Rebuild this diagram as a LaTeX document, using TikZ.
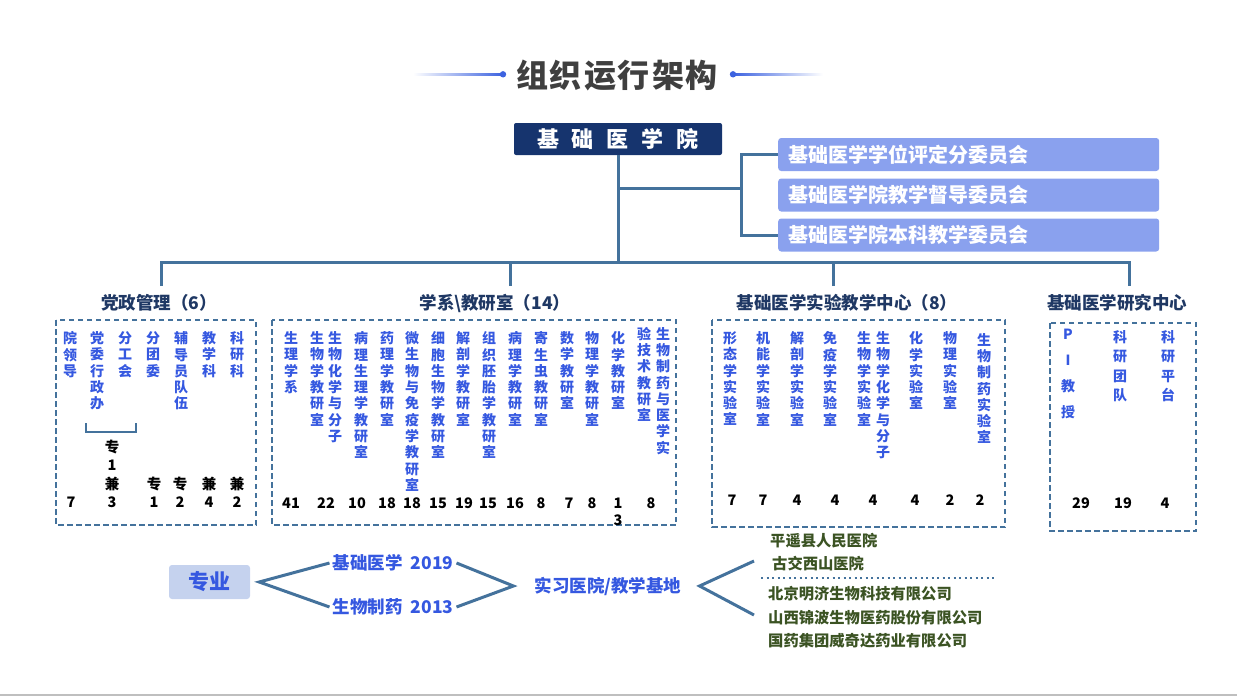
\documentclass[tikz,border=0pt]{standalone}
\usepackage{fontspec}
\setmainfont{Noto Sans CJK SC}
\definecolor{lineBlue}{HTML}{44729C}
\definecolor{navyBox}{HTML}{16346E}
\definecolor{comFill}{HTML}{8AA1EE}
\definecolor{colBlue}{HTML}{3558E0}
\definecolor{hdrNavy}{HTML}{1F3864}
\definecolor{titleGray}{HTML}{3F3F3F}
\definecolor{titleBlue}{HTML}{3D63E0}
\definecolor{majFill}{HTML}{C5D2EE}
\definecolor{baseGreen}{HTML}{3B5323}
% vertical stack of characters, one per line
\makeatletter
\newcommand\vtxt[2][16.3pt]{\vbox{\baselineskip=#1\lineskiplimit=-\maxdimen\@tfor\vch:=#2\do{\hbox to 1.1em{\hss\vch\hss}}}}
\makeatother
\begin{document}
\begin{tikzpicture}[x=1pt,y=-1pt]
            \useasboundingbox (0,0) rectangle (1237,696);
            \tikzstyle{every node}=[font=\bfseries, inner sep=0pt]
            \tikzstyle{conn}=[draw=lineBlue, line width=3pt]
            \tikzstyle{grp}=[draw=lineBlue, line width=2.2pt, dash pattern=on 5.5pt off 3.5pt]
            \tikzstyle{colT}=[anchor=north, text=colBlue, font=\bfseries\fontsize{14}{16}\selectfont]
            \tikzstyle{num}=[anchor=base, font=\bfseries\fontsize{14.5}{18}\selectfont]
            \tikzstyle{hdr}=[text=hdrNavy, font=\bfseries\fontsize{17.5}{20}\selectfont]
            \tikzstyle{combox}=[anchor=west, fill=comFill, rounded corners=3pt, text=white, minimum height=33pt, text width=361pt, inner xsep=10pt, align=left, font=\bfseries\fontsize{20}{22}\selectfont]
            \tikzstyle{major}=[text=colBlue, font=\bfseries\fontsize{17.5}{20}\selectfont, inner sep=3pt]
            \tikzstyle{site}=[anchor=west, text=baseGreen, font=\bfseries\fontsize{15.3}{17}\selectfont]
            % title
            \node [text=titleGray, font=\bfseries\fontsize{32}{34}\selectfont] (title) at (617,75) {组\hspace{2pt}织\hspace{2pt}运\hspace{2pt}行\hspace{2pt}架\hspace{2pt}构};
            \shade [left color=white, right color=titleBlue] (413,73) rectangle (503,75.5);
            \shade [left color=titleBlue, right color=white] (733,73) rectangle (823,75.5);
            \fill [titleBlue] (503,74.3) circle (3.2);
            \fill [titleBlue] (733,74.3) circle (3.2);
            % school and committees
            \node [fill=navyBox, rounded corners=2pt, minimum width=208pt, minimum height=32pt, text=white, font=\bfseries\fontsize{22}{24}\selectfont] (school) at (618,139) {基\hspace{13pt}础\hspace{13pt}医\hspace{13pt}学\hspace{13pt}院};
            \node [combox] (com1) at (778,154.5) {基础医学学位评定分委员会};
            \node [combox] (com2) at (778,195) {基础医学院教学督导委员会};
            \node [combox] (com3) at (778,235) {基础医学院本科教学委员会};
            \coordinate (split) at (741,188);
            \coordinate (bus) at (0,262);
            \draw [conn] (school.south) -- (school.south |- bus);
            \draw [conn] (school.south |- split) -- (split);
            \draw [conn] (com1.west) -| (split) |- (com3.west);
            % four branches
            \coordinate (drop1) at (161,286);
            \coordinate (drop2) at (510,286);
            \coordinate (drop3) at (833,286);
            \coordinate (drop4) at (1129,286);
            \draw [conn] (drop1) -- (drop1 |- bus) -- (drop4 |- bus) -- (drop4);
            \draw [conn] (drop2) -- (drop2 |- bus);
            \draw [conn] (drop3) -- (drop3 |- bus);
            \node [hdr] (h1) at (159,303) {党政管理（6）};
            \node [hdr] (h2) at (495,303) {学系\textbackslash 教研室（14）};
            \node [hdr] (h3) at (847,303) {基础医学实验教学中心（8）};
            \node [hdr] (h4) at (1117,303) {基础医学研究中心};
            \draw [grp] (56,320) rectangle (256,525);
            \draw [grp] (272,320) rectangle (676,525);
            \draw [grp] (712,320) rectangle (1005,527);
            \draw [grp] (1050,323) rectangle (1196,531);
            % 党政管理
            \node [colT] (a1) at (70,331.5) {\vtxt{院领导}};
            \node [colT] (a2) at (97,331.5) {\vtxt{党委行政办}};
            \node [colT] (a3) at (125,331.5) {\vtxt{分工会}};
            \node [colT] (a4) at (153,331.5) {\vtxt{分团委}};
            \node [colT] (a5) at (181,331.5) {\vtxt{辅导员队伍}};
            \node [colT] (a6) at (209,331.5) {\vtxt{教学科}};
            \node [colT] (a7) at (237,331.5) {\vtxt{科研科}};
            \draw [draw=lineBlue, line width=2.4pt] (86,423) -- (86,432) -- (136,432) -- (136,423);
            \node [num] (na1) at (71,507.5) {7};
            \node [num] (na2) at (112,507.5) {\vtxt[18.3pt]{专1兼3}};
            \node [num] (na3) at (154,507.5) {\vtxt[18.3pt]{专1}};
            \node [num] (na4) at (180,507.5) {\vtxt[18.3pt]{专2}};
            \node [num] (na5) at (209,507.5) {\vtxt[18.3pt]{兼4}};
            \node [num] (na6) at (237,507.5) {\vtxt[18.3pt]{兼2}};
            % 学系\教研室
            \node [colT] (b1) at (291,331.5) {\vtxt{生理学系}};
            \node [colT] (b2) at (317,331.5) {\vtxt{生物学教研室}};
            \node [colT] (b3) at (335,331.5) {\vtxt{生物化学与分子}};
            \node [colT] (b4) at (361,331.5) {\vtxt{病理生理学教研室}};
            \node [colT] (b5) at (387,331.5) {\vtxt{药理学教研室}};
            \node [colT] (b6) at (412,331.5) {\vtxt{微生物与免疫学教研室}};
            \node [colT] (b7) at (438,331.5) {\vtxt{细胞生物学教研室}};
            \node [colT] (b8) at (463,331.5) {\vtxt{解剖学教研室}};
            \node [colT] (b9) at (489,331.5) {\vtxt{组织胚胎学教研室}};
            \node [colT] (b10) at (515,331.5) {\vtxt{病理学教研室}};
            \node [colT] (b11) at (541,331.5) {\vtxt{寄生虫教研室}};
            \node [colT] (b12) at (567,331.5) {\vtxt{数学教研室}};
            \node [colT] (b13) at (592,331.5) {\vtxt{物理学教研室}};
            \node [colT] (b14) at (618,331.5) {\vtxt{化学教研室}};
            \node [colT] (b15) at (644,327) {\vtxt{验技术教研室}};
            \node [colT] (b16) at (663,327) {\vtxt{生物制药与医学实}};
            \node [num] (nb1) at (291,508) {41};
            \node [num] (nb2) at (326,508) {22};
            \node [num] (nb3) at (357,508) {10};
            \node [num] (nb4) at (387,508) {18};
            \node [num] (nb5) at (412,508) {18};
            \node [num] (nb6) at (438,508) {15};
            \node [num] (nb7) at (464,508) {19};
            \node [num] (nb8) at (488,508) {15};
            \node [num] (nb9) at (515,508) {16};
            \node [num] (nb10) at (541,508) {8};
            \node [num] (nb11) at (569,508) {7};
            \node [num] (nb12) at (592,508) {8};
            \node [num] (nb13) at (618,525) {\vtxt[17pt]{13}};
            \node [num] (nb14) at (651,508) {8};
            % 实验教学中心
            \node [colT] (c1) at (730,331.5) {\vtxt{形态学实验室}};
            \node [colT] (c2) at (763,331.5) {\vtxt{机能学实验室}};
            \node [colT] (c3) at (797,331.5) {\vtxt{解剖学实验室}};
            \node [colT] (c4) at (830,331.5) {\vtxt{免疫学实验室}};
            \node [colT] (c5) at (864,331.5) {\vtxt{生物学实验室}};
            \node [colT] (c6) at (883,331.5) {\vtxt{生物学化学与分子}};
            \node [colT] (c7) at (916,331.5) {\vtxt{化学实验室}};
            \node [colT] (c8) at (950,331.5) {\vtxt{物理实验室}};
            \node [colT] (c9) at (984,333) {\vtxt{生物制药实验室}};
            \node [num] (nc1) at (732,505) {7};
            \node [num] (nc2) at (763,505) {7};
            \node [num] (nc3) at (797,505) {4};
            \node [num] (nc4) at (835,505) {4};
            \node [num] (nc5) at (873,505) {4};
            \node [num] (nc6) at (915,505) {4};
            \node [num] (nc7) at (950,505) {2};
            \node [num] (nc8) at (980,505) {2};
            % 研究中心
            \node [colT] (d1) at (1068,329) {\vtxt[26pt]{PI教授}};
            \node [colT] (d2) at (1120,330.5) {\vtxt[19.3pt]{科研团队}};
            \node [colT] (d3) at (1168,330.5) {\vtxt[19.3pt]{科研平台}};
            \node [num] (nd1) at (1081,508) {29};
            \node [num] (nd2) at (1123,508) {19};
            \node [num] (nd3) at (1165,508) {4};
            % majors and practice bases
            \node [fill=majFill, rounded corners=3pt, minimum width=81pt, minimum height=34pt, text=colBlue, font=\bfseries\fontsize{21}{23}\selectfont] (spec) at (209.5,582) {专业};
            \node [major] (m1) at (393,563) {基础医学\hspace{8pt}2019};
            \node [major] (m2) at (393,607) {生物制药\hspace{8pt}2013};
            \node [major] (base) at (608,586) {实习医院/教学基地};
            \coordinate (fork) at ([xshift=9pt]spec.east);
            \coordinate (join) at ([xshift=-18pt]base.west);
            \coordinate (tip) at ([xshift=15pt]base.east);
            \coordinate (up) at (754,561);
            \coordinate (dn) at (754,615);
            \draw [conn] (m1.west) -- (fork) -- (m2.west);
            \draw [conn] (m1.east) -- (join) -- (m2.east);
            \draw [conn] (up) -- (tip) -- (dn);
            \node [site] (s1) at (770,541) {平遥县人民医院};
            \node [site] (s2) at (772,564) {古交西山医院};
            \draw [draw=lineBlue, line width=2.4pt, dash pattern=on 2.2pt off 3.3pt] (761,578) -- (997,578);
            \node [site] (s3) at (768,594) {北京明济生物科技有限公司};
            \node [site] (s4) at (768,618) {山西锦波生物医药股份有限公司};
            \node [site] (s5) at (768,641) {国药集团威奇达药业有限公司};
            \draw [draw=black!25, line width=2pt] (0,695) -- (1237,695);
        \end{tikzpicture}
\end{document}
